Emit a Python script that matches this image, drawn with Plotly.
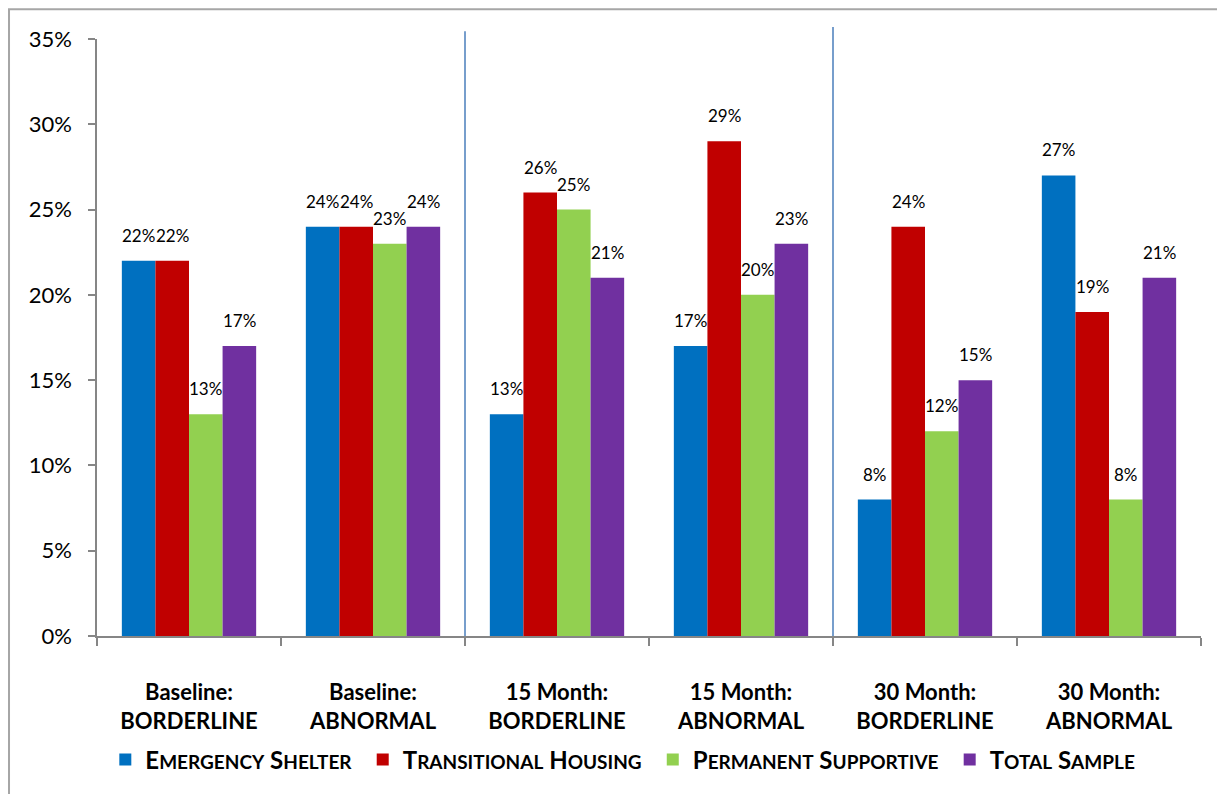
import plotly.graph_objects as go

categories = ["Baseline:<br>BORDERLINE", "Baseline:<br>ABNORMAL", "15 Month:<br>BORDERLINE",
              "15 Month:<br>ABNORMAL", "30 Month:<br>BORDERLINE", "30 Month:<br>ABNORMAL"]
emergency = [0.22, 0.24, 0.13, 0.17, 0.08, 0.27]
transitional = [0.22, 0.24, 0.26, 0.29, 0.24, 0.19]
permanent = [0.13, 0.23, 0.25, 0.20, 0.12, 0.08]
total = [0.17, 0.24, 0.21, 0.23, 0.15, 0.21]

series_names = ["Emergency Shelter", "Transitional Housing", "Permanent Supportive", "Total Sample"]
series_values = [emergency, transitional, permanent, total]
colors = ["#0070C0", "#C00000", "#92D050", "#7030A0"]

FONT = "Lato"
SC = 19  # small-caps size


def small_caps(name):
    words = []
    for w in name.split(" "):
        words.append(w[0].upper() + "<span style='font-size:%dpx'>%s</span>" % (SC, w[1:].upper()))
    return "<b>" + " ".join(words) + "</b>&nbsp;"


cat_labels = ["<b>%s</b>" % c for c in categories]

BARGAP = 0.27
fig = go.Figure()
for name, vals, col in zip(series_names, series_values, colors):
    fig.add_trace(go.Bar(
        x=cat_labels, y=vals, name=small_caps(name),
        marker=dict(color=col, line=dict(width=0)),
    ))

annotations = []
n = len(series_values)
bw = (1 - BARGAP) / n
for i, vals in enumerate(series_values):
    for j, v in enumerate(vals):
        annotations.append(dict(
            x=j + (i - (n - 1) / 2) * bw, y=v, xref="x", yref="y",
            text="%d%%" % round(v * 100), showarrow=False,
            yanchor="bottom", yshift=13,
            font=dict(family=FONT, size=17, color="#000000"),
        ))

shapes = [
    # separators
    dict(type="line", xref="x", yref="paper", x0=1.5, x1=1.5, y0=0, y1=1.013,
         line=dict(color="#4A7EBB", width=1.5)),
    dict(type="line", xref="x", yref="paper", x0=3.5, x1=3.5, y0=0, y1=1.02,
         line=dict(color="#4A7EBB", width=1.5)),
    # outer frame
    dict(type="rect", xref="paper", yref="paper", x0=-0.0797, x1=1.03, y0=-0.28, y1=1.05,
         line=dict(color="#A6A6A6", width=2), layer="below"),
]

fig.update_layout(
    width=1217, height=794,
    margin=dict(l=97, r=16, t=39, b=158, autoexpand=False),
    paper_bgcolor="white", plot_bgcolor="white",
    barmode="group", bargap=BARGAP, bargroupgap=0,
    font=dict(family=FONT, color="#000000"),
    annotations=annotations, shapes=shapes,
    legend=dict(orientation="h", x=0.479, xanchor="center", yref="container", y=0.043, yanchor="middle",
                font=dict(family=FONT, size=24, color="#000000"),
                traceorder="normal", itemclick=False),
    showlegend=True,
)
fig.update_xaxes(
    type="category", categoryorder="array", categoryarray=cat_labels,
    range=[-0.5, len(categories) - 0.5], automargin=False, tickson="boundaries",
    showline=True, linecolor="#868686", linewidth=1.5,
    ticks="outside", ticklen=8, tickcolor="#868686", tickwidth=1.5,
    tickfont=dict(family=FONT, size=22, color="#000000"),
    showgrid=False, zeroline=False, ticklabelstandoff=36,
)
fig.update_yaxes(
    range=[0, 0.35], tickmode="array", tickvals=[0, 0.05, 0.10, 0.15, 0.20, 0.25, 0.30, 0.35],
    tickformat=".0%", showline=True, linecolor="#868686", linewidth=1.5, automargin=False,
    ticks="outside", ticklen=7, tickcolor="#868686", tickwidth=1.5,
    tickfont=dict(family=FONT, size=22, color="#000000"),
    showgrid=False, zeroline=False, ticklabelstandoff=12,
)
fig.write_html("out.html", config={"displayModeBar": False},
               post_script="document.body.style.margin='0';document.body.style.padding='0';")
